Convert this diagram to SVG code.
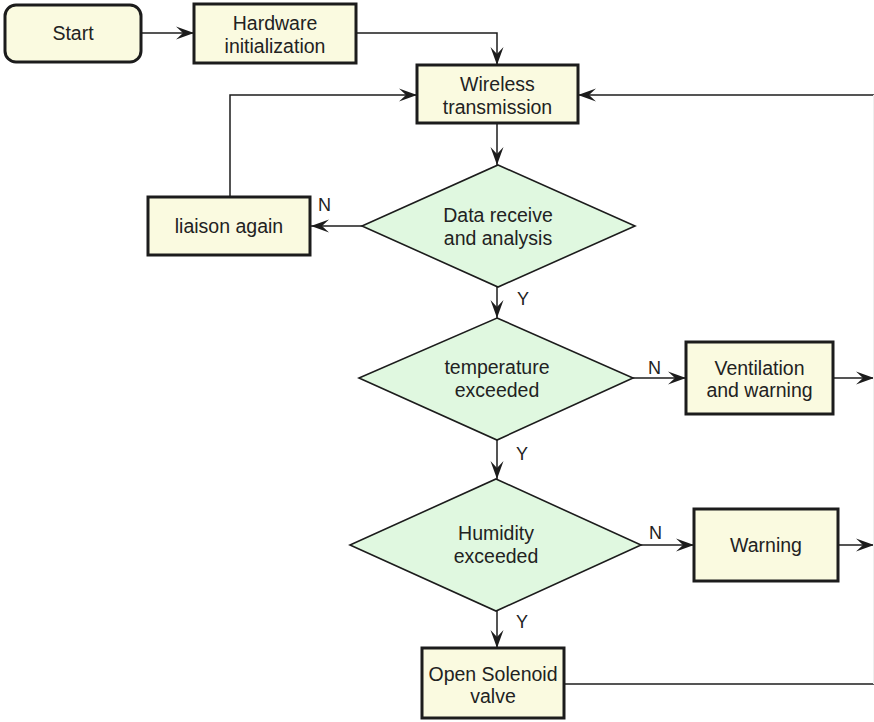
<svg xmlns="http://www.w3.org/2000/svg" width="874" height="722" viewBox="0 0 874 722">
  <style>
    .box { fill: #fafae0; stroke: #1c1c1c; stroke-width: 3; }
    .dec { fill: #e0f8e0; stroke: #1c1c1c; stroke-width: 1.6; }
    .lbl { font-family: "Liberation Sans", Arial, sans-serif; font-size: 19.5px; fill: #222; text-anchor: middle; }
    .yn { font-family: "Liberation Sans", Arial, sans-serif; font-size: 18px; fill: #222; }
    .edge { fill: none; stroke: #1c1c1c; stroke-width: 1.5; }
  </style>
  <defs>
    <marker id="arrow" viewBox="0 0 18 14" refX="18" refY="7" markerWidth="18" markerHeight="14" markerUnits="userSpaceOnUse" orient="auto">
      <path d="M0,0.5 L18,7 L0,13.5 L7,7 Z" fill="#1c1c1c"/>
    </marker>
  </defs>

  <rect width="874" height="722" fill="#ffffff"/>

  <!-- connectors -->
  <g id="connectors">
    <path class="edge" d="M141,33 H194" marker-end="url(#arrow)"/>
    <path class="edge" d="M356,33 H497 V65" marker-end="url(#arrow)"/>
    <path class="edge" d="M497,123 V165" marker-end="url(#arrow)"/>
    <path class="edge" d="M362,226 H311" marker-end="url(#arrow)"/>
    <path class="edge" d="M230,197 V95 H417" marker-end="url(#arrow)"/>
    <path class="edge" d="M874,95 H578" marker-end="url(#arrow)"/>
    <path class="edge" d="M497,287 V318" marker-end="url(#arrow)"/>
    <path class="edge" d="M633,378 H686" marker-end="url(#arrow)"/>
    <path class="edge" d="M833,378 H874" marker-end="url(#arrow)"/>
    <path class="edge" d="M497,440 V479" marker-end="url(#arrow)"/>
    <path class="edge" d="M641,545 H694" marker-end="url(#arrow)"/>
    <path class="edge" d="M838,545 H874" marker-end="url(#arrow)"/>
    <path class="edge" d="M497,611 V648" marker-end="url(#arrow)"/>
    <path class="edge" d="M564,684 H874"/>
    <path d="M873.5,95 V684" fill="none" stroke="#eeeeee" stroke-width="1"/>
    <text class="yn" x="318" y="211">N</text>
    <text class="yn" x="517" y="305">Y</text>
    <text class="yn" x="648" y="374">N</text>
    <text class="yn" x="516" y="460">Y</text>
    <text class="yn" x="649" y="539">N</text>
    <text class="yn" x="516" y="628">Y</text>
  </g>

  <g id="start">
    <rect class="box" x="5" y="5" width="136" height="57" rx="11"/>
    <text class="lbl" x="73" y="40">Start</text>
  </g>

  <g id="hardware-init">
    <rect class="box" x="194" y="4" width="162" height="59"/>
    <text class="lbl" x="275" y="30">Hardware</text>
    <text class="lbl" x="275" y="53">initialization</text>
  </g>

  <g id="wireless">
    <rect class="box" x="417" y="65" width="161" height="58"/>
    <text class="lbl" x="497.5" y="91">Wireless</text>
    <text class="lbl" x="497.5" y="114">transmission</text>
  </g>

  <g id="data-receive">
    <polygon class="dec" points="498,165 635,226 498,287 362,226"/>
    <text class="lbl" x="498" y="222">Data receive</text>
    <text class="lbl" x="498" y="245">and analysis</text>
  </g>

  <g id="liaison">
    <rect class="box" x="148" y="197" width="162" height="58"/>
    <text class="lbl" x="229" y="233">liaison again</text>
  </g>

  <g id="temperature">
    <polygon class="dec" points="497,318 633,378 497,440 359,378"/>
    <text class="lbl" x="497" y="374">temperature</text>
    <text class="lbl" x="497" y="397">exceeded</text>
  </g>

  <g id="ventilation">
    <rect class="box" x="686" y="342" width="147" height="72"/>
    <text class="lbl" x="759.5" y="375">Ventilation</text>
    <text class="lbl" x="759.5" y="397">and warning</text>
  </g>

  <g id="humidity">
    <polygon class="dec" points="496,479 641,545 496,611 350,545"/>
    <text class="lbl" x="496" y="540">Humidity</text>
    <text class="lbl" x="496" y="563">exceeded</text>
  </g>

  <g id="warning">
    <rect class="box" x="694" y="509" width="144" height="72"/>
    <text class="lbl" x="766" y="552">Warning</text>
  </g>

  <g id="solenoid">
    <rect class="box" x="422" y="648" width="142" height="70"/>
    <text class="lbl" x="493" y="681">Open Solenoid</text>
    <text class="lbl" x="493" y="703">valve</text>
  </g>
</svg>
